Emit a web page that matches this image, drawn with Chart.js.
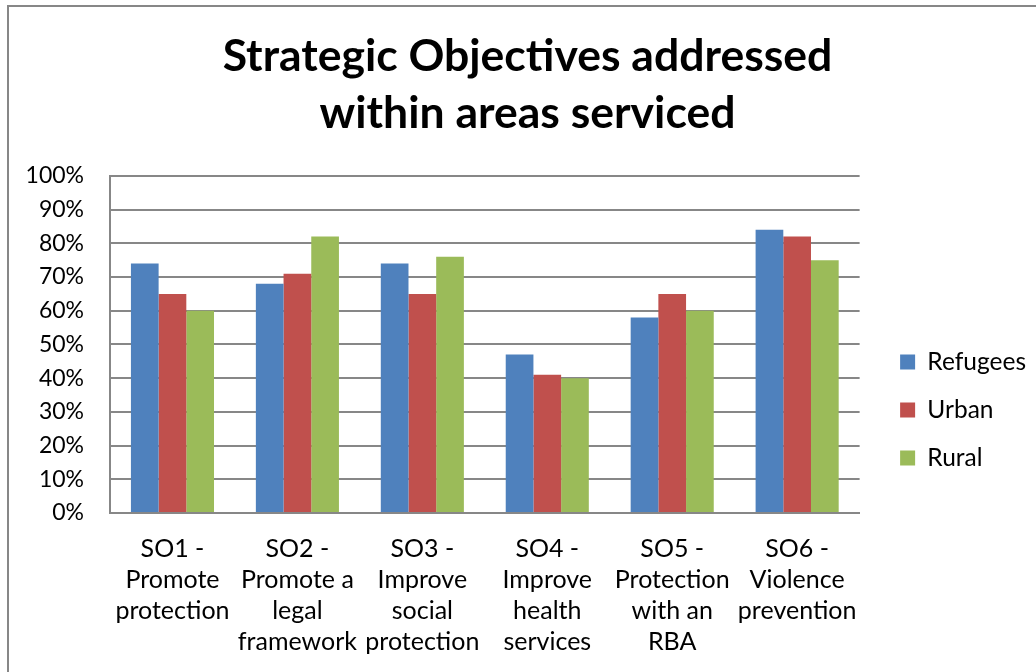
<!DOCTYPE html>
<html>
<head>
<meta charset="utf-8">
<script src="https://cdn.jsdelivr.net/npm/chart.js@4"></script>
<style>
  html, body { margin: 0; padding: 0; background: #fff; overflow: hidden; }
  #wrap { position: relative; width: 1036px; height: 672px; }
  #frame { position: absolute; left: 7px; top: 5px; width: 1100px; height: 800px; border: 2px solid #878787; box-sizing: border-box; pointer-events: none; }
  canvas { position: absolute; left: 0; top: 0; }
</style>
</head>
<body>
<div id="wrap">
  <canvas id="chart" width="1036" height="672"></canvas>
  <div id="frame"></div>
</div>
<script>
// ---------- Data ----------
var categories = [
    ['SO1 -', 'Promote', 'protection'],
    ['SO2 -', 'Promote a', 'legal', 'framework'],
    ['SO3 -', 'Improve', 'social', 'protection'],
    ['SO4 -', 'Improve', 'health', 'services'],
    ['SO5 -', 'Protection', 'with an', 'RBA'],
    ['SO6 -', 'Violence', 'prevention']
];
var refugees = [74, 68, 74, 47, 58, 84];
var urban = [65, 71, 65, 41, 65, 82];
var rural = [60, 82, 76, 40, 60, 75];
var yTicks = [0, 10, 20, 30, 40, 50, 60, 70, 80, 90, 100];

var FONT = 'Lato, Carlito, Calibri, sans-serif';
var PAD_LEFT = 19;

// ---------- Gap between plot area and legend ----------
// An empty layout box on the right, sitting between the plot and the legend.
var legendGap = {
    id: 'legendGap',
    beforeInit: function(chart) {
        Chart.layouts.addBox(chart, {
            position: 'right',
            weight: 500,
            fullSize: false,
            options: {},
            top: 0, left: 0, right: 0, bottom: 0, width: 0, height: 0,
            isHorizontal: function() { return false; },
            update: function(maxWidth, maxHeight) {
                this.width = 17;
                this.height = maxHeight;
            },
            draw: function() {}
        });
    }
};

// ---------- Chart ----------
var ctx = document.getElementById('chart').getContext('2d');
var chart = new Chart(ctx, {
    type: 'bar',
    data: {
        labels: categories,
        datasets: [
            { label: 'Refugees', data: refugees, backgroundColor: '#4F81BD' },
            { label: 'Urban', data: urban, backgroundColor: '#C0504D' },
            { label: 'Rural', data: rural, backgroundColor: '#9BBB59' }
        ]
    },
    plugins: [legendGap],
    options: {
        responsive: false,
        animation: false,
        datasets: {
            bar: { categoryPercentage: 0.665, barPercentage: 1.0 }
        },
        layout: { padding: { left: PAD_LEFT, right: 0, top: 0, bottom: 0 } },
        plugins: {
            title: {
                display: true,
                text: ['Strategic Objectives addressed', 'within areas serviced'],
                color: '#000',
                font: { family: FONT, size: 44.5, weight: 'bold', lineHeight: 1.28 },
                padding: { top: 28.5, bottom: 33.5 }
            },
            legend: {
                position: 'right',
                title: {
                    // empty title only pushes the entries down to where Excel put them
                    display: true,
                    text: ' ',
                    font: { size: 10, lineHeight: 1 },
                    padding: { top: 138, bottom: 0 }
                },
                labels: {
                    color: '#000',
                    font: { family: FONT, size: 24.5 },
                    boxWidth: 15,
                    boxHeight: 15,
                    padding: 23.5
                }
            },
            tooltip: { enabled: false }
        },
        scales: {
            x: {
                grid: { display: false, drawTicks: false },
                border: { color: '#878787', width: 2 },
                ticks: {
                    color: '#000',
                    font: { family: FONT, size: 25, lineHeight: 1.25 },
                    padding: 20,
                    maxRotation: 0,
                    autoSkip: false
                },
                afterFit: function(scale) { scale.height = 159; }
            },
            y: {
                min: 0,
                max: 100,
                afterBuildTicks: function(scale) {
                    scale.ticks = yTicks.map(function(v) { return { value: v }; });
                },
                grid: { color: '#878787', lineWidth: 2, drawTicks: false },
                border: { color: '#878787', width: 2 },
                ticks: {
                    color: '#000',
                    font: { family: FONT, size: 23 },
                    padding: 26,
                    callback: function(v) { return v + '%'; }
                },
                afterFit: function(scale) { scale.width = 110 - PAD_LEFT; }
            }
        }
    }
});
</script>
</body>
</html>
